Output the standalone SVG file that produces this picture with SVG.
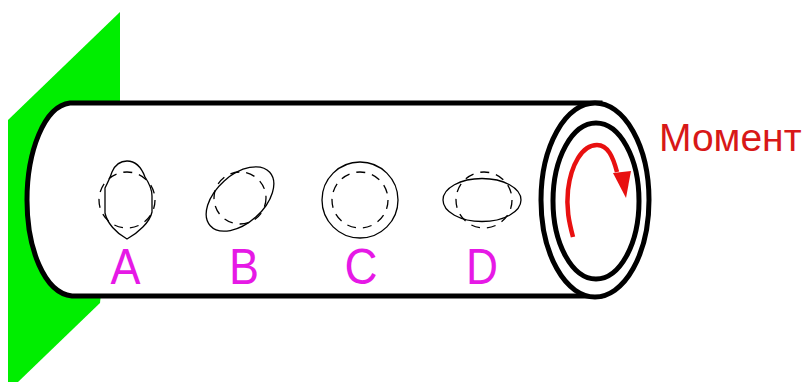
<svg xmlns="http://www.w3.org/2000/svg" width="806" height="382" viewBox="0 0 806 382">
<style>
.thick{fill:#fff;stroke:#000;stroke-width:5}
.solid{fill:none;stroke:#000;stroke-width:1.300}
.dash{fill:none;stroke:#000;stroke-width:1.300;stroke-dasharray:9 7}
.lbl{font-family:"Liberation Sans",Arial,sans-serif;font-size:50px;fill:#e619e6;text-anchor:middle}
</style>
<rect width="806" height="382" fill="#fff"/>
<g id="wall"><polygon points="8,120 120,12 120,110 100,303 18,382 8,382" fill="#00ee00"/></g>
<g id="tube">
<path class="thick" d="M600,103 H70 C44,106 27,152 27,200 C27,248 44,293 72,296 H600 Z"/>
<ellipse class="thick" cx="595" cy="200" rx="54" ry="97"/>
<ellipse class="thick" cx="596" cy="201" rx="43" ry="78"/>
</g>
<g id="section-a">
<path class="solid" d="M127,161 C136,161 142,169 145,177 C149,183 152,189 152,196 V212 C150,222 138,233 127,239 C116,233 107,223 105,213 V188 C108,182 110,178 112,172 C115,165 120,161 127,161 Z"/>
<circle class="dash" cx="127" cy="200" r="28"/>
<text class="lbl" x="125.500" y="284" textLength="30" lengthAdjust="spacingAndGlyphs">A</text>
</g>
<g id="section-b">
<ellipse class="solid" cx="240" cy="199" rx="40" ry="24" transform="rotate(-42 240 199)"/>
<circle class="dash" cx="240" cy="198" r="26"/>
<text class="lbl" x="244" y="284" textLength="30" lengthAdjust="spacingAndGlyphs">B</text>
</g>
<g id="section-c">
<circle class="solid" cx="360" cy="200" r="38"/>
<circle class="dash" cx="360" cy="200" r="28"/>
<text class="lbl" x="361" y="284" textLength="33" lengthAdjust="spacingAndGlyphs">C</text>
</g>
<g id="section-d">
<ellipse class="solid" cx="482" cy="200" rx="39" ry="21.500"/>
<circle class="dash" cx="484" cy="200" r="28"/>
<text class="lbl" x="482" y="284" textLength="32" lengthAdjust="spacingAndGlyphs">D</text>
</g>
<g id="moment">
<path d="M573,237 C569,222 566,208 568,190 C571,165 582,145 597,145 C608,145 613,157 617,172" fill="none" stroke="#e81010" stroke-width="4.500"/>
<polygon points="613,173 631,171 626,198" fill="#e81010"/>
<text x="659" y="151" font-family="'Liberation Sans',Arial,sans-serif" font-size="39" fill="#d81818">Момент</text>
</g>
</svg>
